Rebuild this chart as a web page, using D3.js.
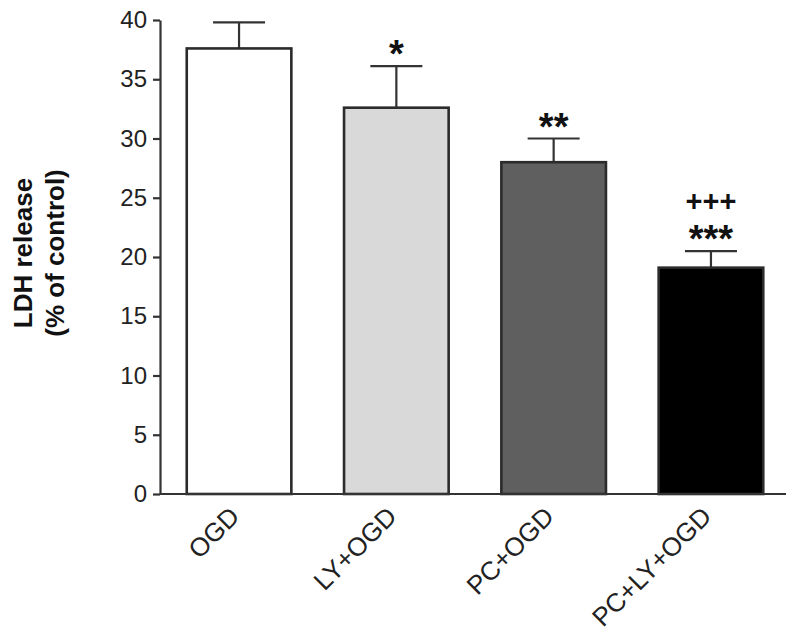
<!DOCTYPE html>
<html>
<head>
<meta charset="utf-8">
<script src="https://cdn.jsdelivr.net/npm/d3@7"></script>
<style>
  body { margin: 0; background: #fff; }
  svg { display: block; font-family: "Liberation Sans", Arial, sans-serif; }
</style>
</head>
<body>
<svg id="chart" width="800" height="643"></svg>
<script>
// data
var groups = ["OGD", "LY+OGD", "PC+OGD", "PC+LY+OGD"];
var means = [37.6, 32.6, 28.0, 19.1];
var errors = [2.2, 3.5, 2.0, 1.4];
var fills = ["#ffffff", "#d9d9d9", "#5f5f5f", "#000000"];
var stars = ["", "*", "**", "***"];
var crosses = ["", "", "", "+++"];
var yTicks = [0, 5, 10, 15, 20, 25, 30, 35, 40];

var svg = d3.select("#chart");
var axisX = 160, baseY = 494;

var x = d3.scaleBand()
    .domain(groups)
    .range([axisX, 790])
    .paddingInner(0.335)
    .paddingOuter(0.17);

var y = d3.scaleLinear()
    .domain([0, 40])
    .range([baseY, 20]);

// bars
var nodes = svg.selectAll(".bar")
    .data(groups)
    .enter()
    .append("g")
    .classed("bar", true);

// error bars first so the bar outline sits on top
nodes.append("line")
    .attr("x1", function (d) { return x(d) + x.bandwidth() / 2; })
    .attr("x2", function (d) { return x(d) + x.bandwidth() / 2; })
    .attr("y1", function (d, i) { return y(means[i]); })
    .attr("y2", function (d, i) { return y(means[i] + errors[i]); })
    .attr("stroke", "#333").attr("stroke-width", 2.2);

nodes.append("line")
    .attr("x1", function (d) { return x(d) + x.bandwidth() / 2 - 26; })
    .attr("x2", function (d) { return x(d) + x.bandwidth() / 2 + 26; })
    .attr("y1", function (d, i) { return y(means[i] + errors[i]); })
    .attr("y2", function (d, i) { return y(means[i] + errors[i]); })
    .attr("stroke", "#333").attr("stroke-width", 2.2);

nodes.append("rect")
    .attr("x", function (d) { return x(d); })
    .attr("y", function (d, i) { return y(means[i]); })
    .attr("width", x.bandwidth())
    .attr("height", function (d, i) { return y(0) - y(means[i]); })
    .attr("fill", function (d, i) { return fills[i]; })
    .attr("stroke", "#2b2b2b")
    .attr("stroke-width", 2.6);

// significance marks
nodes.append("text")
    .attr("x", function (d) { return x(d) + x.bandwidth() / 2; })
    .attr("y", function (d, i) { return y(means[i] + errors[i]) + 1; })
    .attr("text-anchor", "middle")
    .style("font-size", "38px")
    .style("font-weight", "bold")
    .style("fill", "#111")
    .text(function (d, i) { return stars[i]; });

nodes.append("text")
    .attr("x", function (d) { return x(d) + x.bandwidth() / 2; })
    .attr("y", function (d, i) { return y(means[i] + errors[i]) - 40; })
    .attr("text-anchor", "middle")
    .style("font-size", "29px")
    .style("font-weight", "bold")
    .style("fill", "#111")
    .text(function (d, i) { return crosses[i]; });

// y axis
var yAxis = svg.append("g")
    .attr("transform", "translate(" + axisX + ",0)")
    .call(d3.axisLeft(y).tickValues(yTicks).tickSize(7).tickPadding(6).tickSizeOuter(0));
yAxis.selectAll("path, line").attr("stroke", "#333").attr("stroke-width", 2.2);
yAxis.selectAll("text").style("font-size", "24px").style("fill", "#222");

// x axis baseline
svg.append("line")
    .attr("x1", axisX).attr("x2", 786)
    .attr("y1", baseY).attr("y2", baseY)
    .attr("stroke", "#333").attr("stroke-width", 2.2);

// x labels, rotated
svg.selectAll(".xlab")
    .data(groups)
    .enter()
    .append("text")
    .attr("class", "xlab")
    .attr("text-anchor", "end")
    .attr("transform", function (d) {
        return "translate(" + (x(d) + x.bandwidth() / 2 + 2) + "," + (baseY + 24) + ") rotate(-45)";
    })
    .style("font-size", "26px")
    .style("fill", "#222")
    .text(function (d) { return d; });

// y title
var title = svg.append("text")
    .attr("transform", "translate(0,253) rotate(-90)")
    .attr("text-anchor", "middle")
    .style("font-size", "26px")
    .style("font-weight", "bold")
    .style("fill", "#111");
title.append("tspan").attr("x", 0).attr("y", 32).text("LDH release");
title.append("tspan").attr("x", 0).attr("y", 64).text("(% of control)");
</script>
</body>
</html>
